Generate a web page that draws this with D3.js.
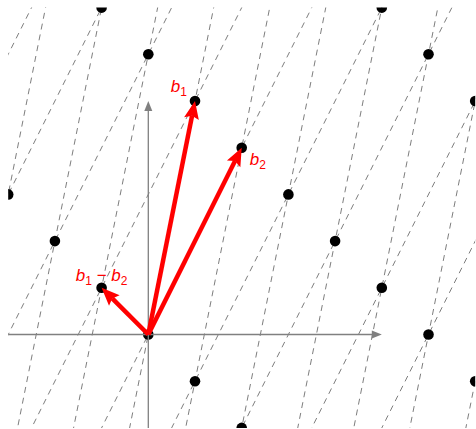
<!DOCTYPE html>
<html>
<head>
<meta charset="utf-8">
<script src="https://cdn.jsdelivr.net/npm/d3@7"></script>
<style>
  html, body { margin: 0; padding: 0; background: #fff; }
  svg { display: block; }
</style>
</head>
<body>
<svg id="chart" width="476" height="429"></svg>
<script>
// ---- data ----
const basisB1 = [1, 5];
const basisB2 = [2, 4];
const basisDiff = [-1, 1]; // b1 - b2
const latticePoints = [
  [-3, 3], [-2, 2], [-1, 1], [0, 0], [1, -1], [2, -2],
  [-1, 7], [0, 6], [1, 5], [2, 4], [3, 3], [4, 2], [5, 1], [6, 0], [7, -1],
  [5, 7], [6, 6], [7, 5]
];
// dashed lines parallel to b1 pass through k*b2; parallel to b2 pass through k*b1
const offsetsAlongB1 = [-3, -2, -1, 0, 1, 2, 3, 4, 5, 6];
const offsetsAlongB2 = [-4, -3, -2, -1, 0, 1, 2, 3, 4, 5];
const xDomain = [-3, 7];
const yDomain = [-2, 7];
const xAxisRange = [-3, 5];
const yAxisRange = [-2, 5];

// ---- scales ----
const unit = 46.7;
const ox = 148.3, oy = 334.5;
const x = d3.scaleLinear().domain(xDomain).range([ox + xDomain[0] * unit, ox + xDomain[1] * unit]);
const y = d3.scaleLinear().domain(yDomain).range([oy - yDomain[0] * unit, oy - yDomain[1] * unit]);

const svg = d3.select("#chart");
svg.append("defs").append("clipPath").attr("id", "clip")
  .append("rect")
  .attr("x", x(xDomain[0])).attr("y", y(yDomain[1]))
  .attr("width", x(xDomain[1]) - x(xDomain[0]))
  .attr("height", y(yDomain[0]) - y(yDomain[1]));

const plot = svg.append("g").attr("clip-path", "url(#clip)");

// ---- dashed lattice lines ----
const line = d3.line().x(d => x(d[0])).y(d => y(d[1]));
function seg(base, dir) {
  const T = 12;
  return [[base[0] - T * dir[0], base[1] - T * dir[1]], [base[0] + T * dir[0], base[1] + T * dir[1]]];
}
const dashG = plot.append("g")
  .attr("fill", "none").attr("stroke", "#6e6e6e").attr("stroke-width", 0.9)
  .attr("stroke-dasharray", "6,5");
offsetsAlongB1.forEach(k => {
  dashG.append("path").attr("d", line(seg([k * basisB2[0], k * basisB2[1]], basisB1)));
});
offsetsAlongB2.forEach(k => {
  dashG.append("path").attr("d", line(seg([k * basisB1[0], k * basisB1[1]], basisB2)));
});

// ---- axes ----
const axisColor = "#808080";
const axG = svg.append("g");
axG.append("line")
  .attr("x1", x(xAxisRange[0])).attr("y1", y(0))
  .attr("x2", x(xAxisRange[1]) - 8).attr("y2", y(0))
  .attr("stroke", axisColor).attr("stroke-width", 1.3);
axG.append("path")
  .attr("d", `M${x(xAxisRange[1])},${y(0)} L${x(xAxisRange[1]) - 10},${y(0) - 4} L${x(xAxisRange[1]) - 10},${y(0) + 4} Z`)
  .attr("fill", axisColor);
axG.append("line")
  .attr("x1", x(0)).attr("y1", y(yAxisRange[0]))
  .attr("x2", x(0)).attr("y2", y(yAxisRange[1]) + 8)
  .attr("stroke", axisColor).attr("stroke-width", 1.3);
axG.append("path")
  .attr("d", `M${x(0)},${y(yAxisRange[1])} L${x(0) - 4},${y(yAxisRange[1]) + 10} L${x(0) + 4},${y(yAxisRange[1]) + 10} Z`)
  .attr("fill", axisColor);

// ---- red vectors ----
const red = "#ff0000";
const vecG = svg.append("g");
function arrow(v) {
  const x0 = x(0), y0 = y(0), x1 = x(v[0]), y1 = y(v[1]);
  const dx = x1 - x0, dy = y1 - y0, L = Math.hypot(dx, dy);
  const ux = dx / L, uy = dy / L, px = -uy, py = ux;
  const headLen = 18, headW = 7.5, notch = 3;
  const bx = x1 - ux * headLen, by = y1 - uy * headLen;
  vecG.append("line")
    .attr("x1", x0).attr("y1", y0)
    .attr("x2", bx + ux * notch).attr("y2", by + uy * notch)
    .attr("stroke", red).attr("stroke-width", 4.5);
  vecG.append("path")
    .attr("d", `M${x1},${y1} L${bx + px * headW},${by + py * headW} L${bx + ux * notch},${by + uy * notch} L${bx - px * headW},${by - py * headW} Z`)
    .attr("fill", red);
}
arrow(basisB1);
arrow(basisB2);
arrow(basisDiff);

// ---- lattice points ----
plot.append("g").selectAll("circle").data(latticePoints).join("circle")
  .attr("cx", d => x(d[0])).attr("cy", d => y(d[1]))
  .attr("r", 5.3).attr("fill", "#000");

// ---- labels ----
const labG = svg.append("g")
  .attr("fill", red)
  .attr("font-family", "'Liberation Sans', Arial, Helvetica, sans-serif")
  .attr("font-size", 17);
function label(parts, px, py, anchor) {
  const t = labG.append("text").attr("x", px).attr("y", py).attr("text-anchor", anchor);
  parts.forEach(p => {
    const ts = t.append("tspan").text(p.t);
    if (p.italic) ts.attr("font-style", "italic");
    if (p.sub) ts.attr("font-size", 12).attr("dy", 4);
    if (p.up) ts.attr("dy", -4);
  });
}
label([{ t: "b", italic: true }, { t: "1", sub: true }], x(basisB1[0]) - 8, y(basisB1[1]) - 9, "end");
label([{ t: "b", italic: true }, { t: "2", sub: true }], x(basisB2[0]) + 8, y(basisB2[1]) + 17, "start");
label([{ t: "b", italic: true }, { t: "1", sub: true }, { t: " − ", up: true }, { t: "b", italic: true }, { t: "2", sub: true }],
  x(basisDiff[0]), y(basisDiff[1]) - 7, "middle");
</script>
</body>
</html>
